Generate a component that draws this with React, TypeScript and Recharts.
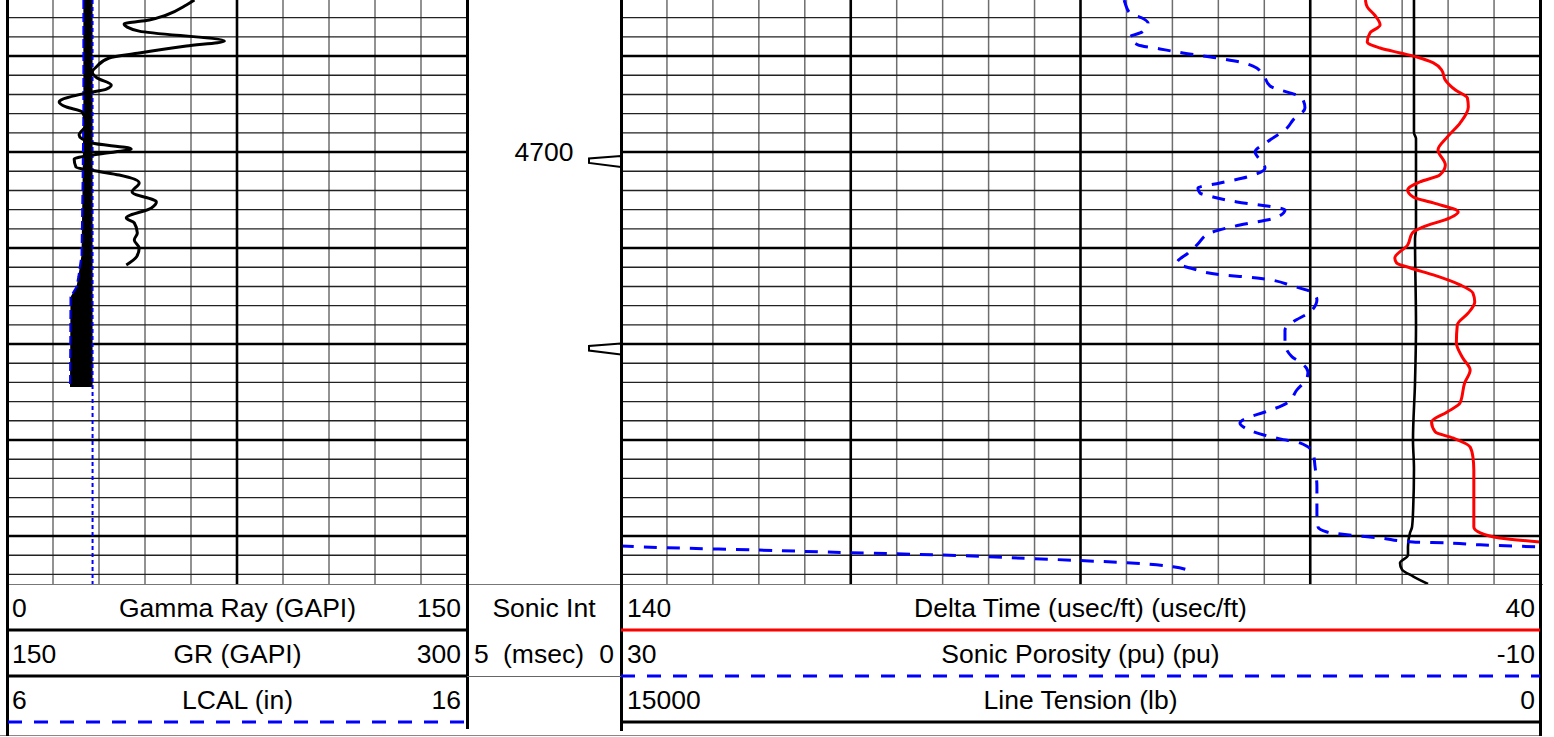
import React from "react";
import {
  ScatterChart,
  Scatter,
  XAxis,
  YAxis,
  CartesianGrid,
  ReferenceLine,
} from "recharts";

// depth window shown on the log (ft)
const TOP_DEPTH = 4620.8;
const BOTTOM_DEPTH = 4925;

const depthMinor = [
  4630, 4640, 4660, 4670, 4680, 4690, 4710, 4720, 4730, 4740, 4760, 4770,
  4780, 4790, 4810, 4820, 4830, 4840, 4860, 4870, 4880, 4890, 4910, 4920,
];
const depthMajor = [4650, 4700, 4750, 4800, 4850, 4900];
const grMinor = [15, 30, 45, 60, 90, 105, 120, 135];
const grMajor = [75];
const dtMinor = [135, 130, 125, 120, 110, 105, 100, 95, 85, 80, 75, 70, 60, 55, 50, 45];
const dtMajor = [115, 90, 65];
const depthLabels = [4700];

// Gamma Ray (GAPI), 0 - 150
const gammaRay = [
  { depth: 4620.8, v: 61.1 }, { depth: 4623.4, v: 58.5 }, { depth: 4628.6, v: 52.0 },
  { depth: 4631.2, v: 46.4 }, { depth: 4633.3, v: 38.2 }, { depth: 4634.9, v: 39.2 },
  { depth: 4637.0, v: 43.1 }, { depth: 4642.2, v: 70.9 }, { depth: 4644.8, v: 58.5 },
  { depth: 4648.4, v: 43.1 }, { depth: 4651.0, v: 33.3 }, { depth: 4655.7, v: 29.1 },
  { depth: 4658.3, v: 27.8 }, { depth: 4661.4, v: 29.4 }, { depth: 4665.1, v: 34.0 },
  { depth: 4667.2, v: 32.4 }, { depth: 4669.2, v: 26.1 }, { depth: 4672.9, v: 17.6 },
  { depth: 4673.9, v: 17.0 }, { depth: 4676.5, v: 19.3 }, { depth: 4679.1, v: 24.5 },
  { depth: 4685.9, v: 25.8 }, { depth: 4691.1, v: 23.5 }, { depth: 4695.3, v: 27.8 },
  { depth: 4698.4, v: 40.5 }, { depth: 4701.0, v: 30.1 }, { depth: 4703.6, v: 21.9 },
  { depth: 4707.8, v: 22.5 }, { depth: 4709.9, v: 29.1 }, { depth: 4712.0, v: 36.6 },
  { depth: 4716.1, v: 43.1 }, { depth: 4720.8, v: 40.8 }, { depth: 4726.0, v: 48.7 },
  { depth: 4729.1, v: 47.1 }, { depth: 4734.3, v: 38.9 }, { depth: 4736.9, v: 41.5 },
  { depth: 4742.2, v: 42.5 }, { depth: 4745.8, v: 41.5 }, { depth: 4750.0, v: 43.1 },
  { depth: 4754.7, v: 42.2 }, { depth: 4758.8, v: 38.9 },
];

// LCAL (in), 6 - 16
const lcal = [
  { depth: 4620.8, v: 7.66 }, { depth: 4680.0, v: 7.66 }, { depth: 4721.3, v: 7.64 },
  { depth: 4753.6, v: 7.62 }, { depth: 4765.1, v: 7.55 }, { depth: 4770.3, v: 7.51 },
  { depth: 4775.5, v: 7.38 }, { depth: 4822.4, v: 7.37 },
];
const bitSize = [
  { depth: 4620.8, v: 7.86 },
  { depth: 4925.0, v: 7.86 },
];

// Delta Time (usec/ft), 140 - 40
const deltaTime = [
  { depth: 4620.8, v: 59.0 }, { depth: 4624.4, v: 58.8 }, { depth: 4628.6, v: 58.0 },
  { depth: 4633.8, v: 57.4 }, { depth: 4638.0, v: 58.5 }, { depth: 4642.7, v: 58.8 },
  { depth: 4645.8, v: 57.4 }, { depth: 4648.4, v: 55.2 }, { depth: 4650.5, v: 53.4 },
  { depth: 4653.6, v: 51.6 }, { depth: 4657.3, v: 50.7 }, { depth: 4662.5, v: 50.3 },
  { depth: 4667.7, v: 49.2 }, { depth: 4671.8, v: 47.9 }, { depth: 4676.5, v: 47.8 },
  { depth: 4684.9, v: 48.7 }, { depth: 4692.2, v: 50.1 }, { depth: 4698.9, v: 51.1 },
  { depth: 4706.7, v: 50.3 }, { depth: 4711.9, v: 50.9 }, { depth: 4715.6, v: 53.1 },
  { depth: 4719.8, v: 54.4 }, { depth: 4723.4, v: 53.8 }, { depth: 4726.5, v: 51.6 },
  { depth: 4731.2, v: 48.9 }, { depth: 4734.3, v: 49.8 }, { depth: 4739.0, v: 52.7 },
  { depth: 4742.2, v: 53.9 }, { depth: 4748.4, v: 54.4 }, { depth: 4755.2, v: 55.8 },
  { depth: 4757.8, v: 55.6 }, { depth: 4760.4, v: 54.1 }, { depth: 4764.0, v: 51.6 },
  { depth: 4769.2, v: 48.7 }, { depth: 4773.4, v: 47.3 }, { depth: 4778.1, v: 47.1 },
  { depth: 4783.8, v: 47.8 }, { depth: 4790.1, v: 49.0 }, { depth: 4799.4, v: 49.1 },
  { depth: 4807.3, v: 48.4 }, { depth: 4813.5, v: 47.6 }, { depth: 4820.3, v: 48.2 },
  { depth: 4830.7, v: 48.7 }, { depth: 4835.4, v: 50.1 }, { depth: 4840.6, v: 51.8 },
  { depth: 4845.8, v: 51.4 }, { depth: 4848.9, v: 49.5 }, { depth: 4853.6, v: 47.6 },
  { depth: 4858.8, v: 47.3 }, { depth: 4865.6, v: 47.2 }, { depth: 4895.3, v: 47.2 },
  { depth: 4898.4, v: 46.5 }, { depth: 4901.0, v: 44.4 }, { depth: 4903.1, v: 40.0 },
];

// Sonic Porosity (pu), 30 - -10
const sonicPorosity = [
  { depth: 4620.8, v: 8.10 }, { depth: 4622.4, v: 8.06 }, { depth: 4627.6, v: 7.85 },
  { depth: 4630.2, v: 7.32 }, { depth: 4632.8, v: 7.06 }, { depth: 4637.5, v: 7.32 },
  { depth: 4640.1, v: 7.85 }, { depth: 4644.2, v: 7.50 }, { depth: 4646.3, v: 6.54 },
  { depth: 4648.4, v: 5.54 }, { depth: 4651.0, v: 4.06 }, { depth: 4653.1, v: 3.06 },
  { depth: 4655.2, v: 2.49 }, { depth: 4658.8, v: 2.10 }, { depth: 4665.6, v: 1.75 },
  { depth: 4671.8, v: 0.36 }, { depth: 4677.1, v: 0.23 }, { depth: 4683.3, v: 0.75 },
  { depth: 4687.5, v: 1.01 }, { depth: 4694.8, v: 1.88 }, { depth: 4700.0, v: 2.40 },
  { depth: 4704.1, v: 2.19 }, { depth: 4708.3, v: 1.97 }, { depth: 4713.0, v: 2.75 },
  { depth: 4716.1, v: 3.93 }, { depth: 4718.7, v: 4.89 }, { depth: 4721.3, v: 4.80 },
  { depth: 4723.4, v: 4.23 }, { depth: 4726.0, v: 3.19 }, { depth: 4728.1, v: 1.88 },
  { depth: 4730.2, v: 1.10 }, { depth: 4734.3, v: 1.53 }, { depth: 4738.0, v: 3.06 },
  { depth: 4742.2, v: 4.36 }, { depth: 4748.4, v: 4.93 }, { depth: 4752.6, v: 5.32 },
  { depth: 4757.8, v: 5.80 }, { depth: 4760.4, v: 5.23 }, { depth: 4764.0, v: 3.80 },
  { depth: 4765.6, v: 2.32 }, { depth: 4769.8, v: 0.75 }, { depth: 4773.4, v: -0.12 },
  { depth: 4777.0, v: -0.29 }, { depth: 4783.3, v: 0.01 }, { depth: 4788.5, v: 0.75 },
  { depth: 4792.7, v: 1.10 }, { depth: 4799.4, v: 1.10 }, { depth: 4806.7, v: 0.79 },
  { depth: 4809.3, v: 0.45 }, { depth: 4814.6, v: 0.10 }, { depth: 4817.7, v: 0.14 },
  { depth: 4823.9, v: 0.58 }, { depth: 4830.7, v: 1.01 }, { depth: 4835.4, v: 1.97 },
  { depth: 4838.5, v: 2.75 }, { depth: 4841.1, v: 3.06 }, { depth: 4843.7, v: 2.84 },
  { depth: 4846.8, v: 2.19 }, { depth: 4849.4, v: 1.32 }, { depth: 4851.5, v: 0.45 },
  { depth: 4856.7, v: -0.12 }, { depth: 4864.0, v: -0.21 }, { depth: 4874.4, v: -0.29 },
  { depth: 4888.0, v: -0.29 }, { depth: 4895.3, v: -0.34 }, { depth: 4897.9, v: -0.73 },
  { depth: 4899.4, v: -1.60 }, { depth: 4901.0, v: -3.04 }, { depth: 4903.1, v: -4.47 },
  { depth: 4903.6, v: -5.95 }, { depth: 4904.6, v: -7.39 }, { depth: 4905.7, v: -10.0 },
];
// wrapped part of the porosity curve (backup scale -10 - -50)
const sonicPorosityWrap = [
  { depth: 4905.2, v: -10.0 }, { depth: 4906.1, v: -11.96 }, { depth: 4907.3, v: -15.96 },
  { depth: 4908.7, v: -20.0 }, { depth: 4909.9, v: -23.97 }, { depth: 4911.8, v: -27.98 },
  { depth: 4912.8, v: -30.0 }, { depth: 4913.9, v: -32.02 }, { depth: 4916.0, v: -34.03 },
  { depth: 4917.4, v: -34.59 },
];

// Line Tension (lb), 15000 - 0
const lineTension = [
  { depth: 4620.8, v: 2057 }, { depth: 4690.0, v: 2057 }, { depth: 4693.0, v: 2024 },
  { depth: 4740.0, v: 2024 }, { depth: 4745.0, v: 2040 }, { depth: 4790.0, v: 2024 },
  { depth: 4820.0, v: 2040 }, { depth: 4850.0, v: 2073 }, { depth: 4865.0, v: 2057 },
  { depth: 4888.0, v: 2073 }, { depth: 4895.3, v: 2089 }, { depth: 4898.4, v: 2122 },
  { depth: 4905.7, v: 2155 }, { depth: 4910.0, v: 2155 }, { depth: 4914.0, v: 2285 },
  { depth: 4917.5, v: 2252 }, { depth: 4921.0, v: 2073 }, { depth: 4925.0, v: 1828 },
];

// integrated transit time pips
const sonicIntPips = [
  { depth: 4704.9, v: 0 },
  { depth: 4802.6, v: 0 },
];

const leftHeader = [
  { lo: "0", name: "Gamma Ray (GAPI)", hi: "150", stroke: "#000", dash: undefined },
  { lo: "150", name: "GR (GAPI)", hi: "300", stroke: "#000", dash: undefined },
  { lo: "6", name: "LCAL (in)", hi: "16", stroke: "#0000ff", dash: "14 12" },
];
const rightHeader = [
  { lo: "140", name: "Delta Time (usec/ft) (usec/ft)", hi: "40", stroke: "#ff0000", dash: undefined },
  { lo: "30", name: "Sonic Porosity (pu) (pu)", hi: "-10", stroke: "#0000ff", dash: "14 12" },
  { lo: "15000", name: "Line Tension (lb)", hi: "0", stroke: "#000", dash: undefined },
];

const FONT = '"Liberation Sans", Arial, sans-serif';
const NoDot = () => null;

// closed black fill between caliper and bit size
const washoutFill = [
  ...lcal,
  { depth: lcal[lcal.length - 1].depth, v: bitSize[0].v },
  { depth: lcal[0].depth, v: bitSize[0].v },
];

const fillPath = (props: any) => {
  const pts = props.points || [];
  if (!pts.length) return <g />;
  const d = pts.map((p: any, i: number) => `${i ? "L" : "M"}${p.x},${p.y}`).join("") + "Z";
  return <path d={d} fill="#000" stroke="none" />;
};

const Pip = (p: any) => (
  <polygon
    points={`${p.cx},${p.cy - 5.5} ${p.cx - 32},${p.cy - 3} ${p.cx - 32},${p.cy + 1.5} ${p.cx},${p.cy + 5.5}`}
    fill="#fff"
    stroke="#000"
    strokeWidth={2}
  />
);

const margin = { top: 0, right: 0, bottom: 0, left: 0 };

function DepthAxis() {
  return (
    <YAxis
      yAxisId="d"
      type="number"
      dataKey="depth"
      domain={[TOP_DEPTH, BOTTOM_DEPTH]}
      reversed
      allowDataOverflow
      interval={0}
      hide
    />
  );
}

function LeftTrack() {
  return (
    <ScatterChart width={460} height={584} margin={margin}>
      <XAxis xAxisId="gr" type="number" dataKey="v" domain={[0, 150]} allowDataOverflow interval={0} hide />
      <XAxis xAxisId="cal" type="number" dataKey="v" domain={[6, 16]} allowDataOverflow hide />
      {DepthAxis()}
      <CartesianGrid xAxisId="gr" yAxisId="d" horizontal={false} verticalValues={grMinor} stroke="#6e6e6e" strokeWidth={1.5} />
      <CartesianGrid xAxisId="gr" yAxisId="d" vertical={false} horizontalValues={depthMinor} stroke="#222" strokeWidth={1.4} />
      <CartesianGrid xAxisId="gr" yAxisId="d" horizontalValues={depthMajor} verticalValues={grMajor} stroke="#000" strokeWidth={2.6} />
      <Scatter xAxisId="cal" yAxisId="d" data={washoutFill} line={fillPath} shape={NoDot} isAnimationActive={false} />
      <Scatter xAxisId="cal" yAxisId="d" data={bitSize} line={{ stroke: "#0000ff", strokeWidth: 2, strokeDasharray: "4 3" }} shape={NoDot} isAnimationActive={false} />
      <Scatter xAxisId="cal" yAxisId="d" data={lcal} line={{ stroke: "#0000ff", strokeWidth: 2, strokeDasharray: "9 4" }} shape={NoDot} isAnimationActive={false} />
      <Scatter xAxisId="gr" yAxisId="d" data={gammaRay} line={{ stroke: "#000", strokeWidth: 3 }} lineJointType="monotoneY" shape={NoDot} isAnimationActive={false} />
    </ScatterChart>
  );
}

function DepthTrack() {
  return (
    <ScatterChart width={154} height={584} margin={margin}>
      <XAxis xAxisId="t" type="number" dataKey="v" domain={[0, 5]} reversed allowDataOverflow hide />
      {DepthAxis()}
      {depthLabels.map((d) => (
        <ReferenceLine
          key={d}
          xAxisId="t"
          yAxisId="d"
          y={d}
          stroke="none"
          label={{ value: String(d), position: "center", fontSize: 26.5, fill: "#000", fontFamily: FONT }}
        />
      ))}
      <Scatter xAxisId="t" yAxisId="d" data={sonicIntPips} shape={Pip} isAnimationActive={false} />
    </ScatterChart>
  );
}

function RightTrack() {
  return (
    <ScatterChart width={919} height={584} margin={margin}>
      <XAxis xAxisId="dt" type="number" dataKey="v" domain={[40, 140]} reversed allowDataOverflow interval={0} hide />
      <XAxis xAxisId="phi" type="number" dataKey="v" domain={[-10, 30]} reversed allowDataOverflow hide />
      <XAxis xAxisId="phiw" type="number" dataKey="v" domain={[-50, -10]} reversed allowDataOverflow hide />
      <XAxis xAxisId="ten" type="number" dataKey="v" domain={[0, 15000]} reversed allowDataOverflow hide />
      {DepthAxis()}
      <CartesianGrid xAxisId="dt" yAxisId="d" horizontal={false} verticalValues={dtMinor} stroke="#6e6e6e" strokeWidth={1.5} />
      <CartesianGrid xAxisId="dt" yAxisId="d" vertical={false} horizontalValues={depthMinor} stroke="#222" strokeWidth={1.4} />
      <CartesianGrid xAxisId="dt" yAxisId="d" horizontalValues={depthMajor} verticalValues={dtMajor} stroke="#000" strokeWidth={2.6} />
      <Scatter xAxisId="ten" yAxisId="d" data={lineTension} line={{ stroke: "#000", strokeWidth: 2.6 }} lineJointType="monotoneY" shape={NoDot} isAnimationActive={false} />
      <Scatter xAxisId="phi" yAxisId="d" data={sonicPorosity} line={{ stroke: "#0000ff", strokeWidth: 3, strokeDasharray: "13 10" }} lineJointType="monotoneY" shape={NoDot} isAnimationActive={false} />
      <Scatter xAxisId="phiw" yAxisId="d" data={sonicPorosityWrap} line={{ stroke: "#0000ff", strokeWidth: 3, strokeDasharray: "13 10" }} lineJointType="monotoneY" shape={NoDot} isAnimationActive={false} />
      <Scatter xAxisId="dt" yAxisId="d" data={deltaTime} line={{ stroke: "#ff0000", strokeWidth: 3 }} lineJointType="monotoneY" shape={NoDot} isAnimationActive={false} />
    </ScatterChart>
  );
}

function HeaderRows({ x, w, rows, padL, padR }: any) {
  return (
    <>
      {rows.map((r: any, i: number) => (
        <div key={r.name} style={{ position: "absolute", left: x, top: 585 + i * 46, width: w, height: 46 }}>
          <span style={{ position: "absolute", left: padL, top: 0, lineHeight: "46px" }}>{r.lo}</span>
          <span style={{ position: "absolute", left: 0, right: 0, top: 0, textAlign: "center", lineHeight: "46px" }}>{r.name}</span>
          <span style={{ position: "absolute", right: padR, top: 0, lineHeight: "46px" }}>{r.hi}</span>
          <svg style={{ position: "absolute", left: 0, top: 43 }} width={w} height={4}>
            <line x1={0} y1={2} x2={w} y2={2} stroke={r.stroke} strokeWidth={3} strokeDasharray={r.dash} />
          </svg>
        </div>
      ))}
    </>
  );
}

const vline = (left: number, top: number, h: number, w = 3, color = "#000") => (
  <div style={{ position: "absolute", left, top, width: w, height: h, background: color }} />
);
const hline = (left: number, top: number, w: number, h = 1, color = "#000") => (
  <div style={{ position: "absolute", left, top, width: w, height: h, background: color }} />
);

export default function App() {
  return (
    <div
      style={{
        position: "absolute",
        left: 0,
        top: 0,
        width: 1554,
        height: 737,
        background: "#fff",
        overflow: "hidden",
        fontFamily: FONT,
        fontSize: 26.5,
        color: "#000",
      }}
    >
      <div style={{ position: "absolute", left: 7, top: 0 }}>
        <LeftTrack />
      </div>
      <div style={{ position: "absolute", left: 467, top: 0 }}>
        <DepthTrack />
      </div>
      <div style={{ position: "absolute", left: 621, top: 0 }}>
        <RightTrack />
      </div>

      {/* frame */}
      {hline(6, 584, 1537, 1, "#777")}
      {hline(0, 735, 1542, 1, "#888")}
      {vline(6, 0, 736)}
      {vline(466, 0, 729)}
      {vline(620, 0, 731)}
      {vline(1539, 0, 736)}
      {hline(467, 676, 154, 1, "#666")}

      <HeaderRows x={8} w={459} rows={leftHeader} padL={4} padR={6} />
      <HeaderRows x={621} w={919} rows={rightHeader} padL={6} padR={5} />

      <div style={{ position: "absolute", left: 467, top: 585, width: 154, height: 46, lineHeight: "46px", textAlign: "center" }}>
        Sonic Int
      </div>
      <div style={{ position: "absolute", left: 467, top: 631, width: 154, height: 46, lineHeight: "46px" }}>
        <span style={{ position: "absolute", left: 7 }}>5</span>
        <span style={{ position: "absolute", left: 36 }}>(msec)</span>
        <span style={{ position: "absolute", right: 7 }}>0</span>
      </div>
    </div>
  );
}
